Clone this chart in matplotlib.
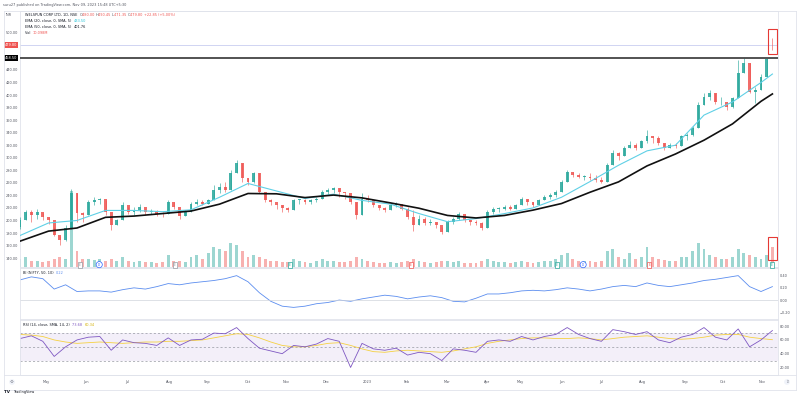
import matplotlib
matplotlib.use("Agg")
import matplotlib.pyplot as plt
import numpy as np
from matplotlib.patches import Rectangle

# ---------------- data (one candle per ~3 sessions) ----------------
close = [200, 214, 209, 214, 206, 201, 177, 169, 188, 244,
         212, 209, 230, 233, 234, 214, 193, 201, 225, 214,
         217, 222, 214, 215, 211, 210, 230, 222, 207, 214,
         227, 230, 227, 233, 249, 254, 249, 275, 291, 267,
         262, 275, 246, 233, 230, 225, 220, 217, 233, 233,
         230, 232, 235, 246, 249, 251, 246, 243, 230, 209,
         235, 233, 225, 220, 217, 225, 227, 219, 206, 193,
         203, 196, 198, 193, 182, 198, 203, 211, 201, 198,
         196, 188, 214, 219, 219, 222, 219, 225, 235, 230,
         225, 233, 238, 241, 246, 262, 278, 273, 270, 270,
         267, 265, 262, 288, 307, 302, 315, 320, 315, 326,
         334, 331, 323, 315, 320, 318, 334, 336, 347, 384,
         397, 403, 389, 389, 381, 395, 435, 451, 405, 408,
         429, 457, 479.80]
high = [205, 217, 216, 219, 212, 206, 190, 176, 192, 250,
        244, 214, 232, 238, 236, 233, 206, 203, 229, 222,
        222, 227, 219, 219, 216, 214, 232, 230, 217, 217,
        230, 235, 232, 235, 256, 259, 262, 280, 297, 291,
        268, 278, 275, 246, 235, 227, 224, 222, 235, 235,
        235, 235, 238, 248, 251, 254, 251, 246, 241, 230,
        243, 240, 233, 224, 222, 227, 229, 224, 222, 216,
        209, 206, 203, 198, 190, 200, 206, 214, 211, 201,
        200, 198, 216, 222, 222, 225, 225, 227, 238, 235,
        230, 235, 241, 243, 249, 264, 281, 278, 275, 272,
        275, 272, 270, 291, 312, 309, 318, 326, 323, 328,
        344, 334, 334, 323, 323, 323, 336, 339, 350, 389,
        403, 408, 403, 397, 389, 397, 456, 459, 451, 413,
        434, 459, 490.45]
low = [186, 200, 198, 203, 201, 195, 175, 161, 168, 186,
       198, 197, 208, 225, 226, 208, 185, 192, 200, 211,
       209, 214, 208, 211, 207, 206, 210, 218, 203, 207,
       214, 225, 224, 227, 232, 243, 246, 249, 275, 262,
       256, 259, 243, 230, 225, 219, 214, 214, 217, 227,
       227, 227, 230, 235, 240, 243, 238, 235, 227, 202,
       209, 230, 222, 216, 214, 216, 222, 217, 203, 184,
       193, 192, 193, 188, 178, 182, 195, 200, 198, 192,
       192, 185, 188, 211, 214, 216, 216, 219, 225, 225,
       222, 225, 232, 235, 238, 246, 262, 270, 267, 264,
       265, 262, 259, 262, 288, 296, 302, 315, 313, 315,
       323, 323, 320, 312, 315, 315, 318, 328, 334, 347,
       384, 392, 386, 384, 376, 379, 395, 435, 403, 387,
       408, 429, 471.35]
first_open = 190.0
last_open = 480.00
volume_m = [4, 5, 3, 3, 2.5, 3, 4, 5, 4, 38,
            8, 4, 4, 3.5, 4, 3, 4, 3, 5, 3,
            2.5, 3, 2.5, 2.5, 2, 2.5, 6, 3, 3, 2.5,
            5, 6, 4, 7, 10, 9, 8, 12, 11, 8,
            5, 6, 5, 4, 3, 3, 2.5, 2.5, 4, 3,
            2.5, 2, 3, 4, 3, 3, 2.5, 2.5, 3, 5,
            4, 3, 2.5, 2, 2, 2.5, 2, 2.5, 3, 4,
            3, 2.5, 2, 2.5, 3, 3, 2.5, 3, 2, 2,
            2, 3, 4, 3, 2.5, 2.5, 2, 2.5, 3, 2.5,
            2, 2.5, 3, 3, 4, 6, 7, 4, 3, 3,
            3, 2.5, 3, 8, 9, 5, 4, 7, 4, 5,
            10, 5, 4, 3.5, 3, 3, 5, 5, 8, 12,
            9, 6, 5, 4, 4, 5, 9, 7, 6, 5,
            4, 6, 10.098]

# EMA readings every 5 candles (+ last candle)
ema20 = [176, 196, 200, 216, 216, 214, 217, 237, 259, 247,
         235, 242, 232, 226, 211, 198, 203, 211, 220, 237,
         262, 288, 311, 320, 368, 389, 420, 433.50]
ema50 = [167, 183, 188, 205, 207, 211, 215, 226, 243, 242.5,
         236.5, 240.5, 236, 228, 219.5, 208, 204, 208, 216.5, 227,
         245, 261.5, 287, 306, 328, 354, 390, 401.76]

# lower panes, readings every 2 candles
bi = [0.33, 0.38, 0.35, 0.18, 0.25, 0.14, 0.15, 0.15, 0.13, 0.17,
      0.20, 0.18, 0.22, 0.27, 0.25, 0.28, 0.30, 0.32, 0.35, 0.40,
      0.30, 0.12, -0.02, -0.10, -0.12, -0.10, -0.06, -0.04, 0.00, -0.02,
      0.02, 0.05, 0.08, 0.06, 0.02, 0.05, 0.07, 0.04, -0.02, -0.03,
      0.03, 0.10, 0.10, 0.12, 0.15, 0.16, 0.15, 0.17, 0.20, 0.18,
      0.15, 0.18, 0.22, 0.24, 0.22, 0.28, 0.24, 0.22, 0.25, 0.28,
      0.32, 0.34, 0.37, 0.40, 0.22, 0.14, 0.22]
rsi = [62, 66, 58, 36, 50, 60, 64, 65, 45, 60,
       56, 55, 52, 63, 52, 60, 61, 70, 69, 78,
       62, 48, 44, 40, 52, 50, 54, 62, 58, 20,
       55, 47, 45, 48, 38, 42, 40, 30, 47, 45,
       42, 58, 60, 58, 65, 60, 65, 68, 78, 68,
       62, 58, 75, 72, 68, 72, 60, 56, 64, 68,
       78, 64, 60, 76, 50, 60, 73.68]
rsi_ma = [68, 67, 65, 60, 57, 55, 56, 57, 56, 55,
          56, 57, 57, 58, 58, 59, 60, 63, 66, 69,
          68, 63, 57, 52, 50, 50, 52, 55, 56, 52,
          47, 43, 42, 44, 45, 44, 43, 42, 44, 47,
          50, 55, 58, 60, 62, 63, 63, 62, 62, 63,
          62, 60, 62, 64, 65, 66, 64, 62, 61, 62,
          64, 67, 68, 68, 64, 62, 60.34]

month_labels = ["May", "Jun", "Jul", "Aug", "Sep", "Oct", "Nov", "Dec", "2023",
                "Feb", "Mar", "Apr", "May", "Jun", "Jul", "Aug", "Sep", "Oct", "Nov"]
month_pos = [4.68, 11.58, 18.89, 26.14, 32.75, 40.0, 46.61, 53.68, 61.0,
             67.84, 74.91, 81.88, 87.84, 95.09, 102.05, 109.12, 116.67, 123.33, 130.12]

event_pos = [10.5, 13.9, 27.2, 47.4, 68.6, 94.2, 98.8, 110.4, 131.9]
event_kind = ["E", "D", "E", "E", "E", "E", "D", "E", "E"]
event_color = ["#9598a1", "#2962ff", "#9598a1", "#26a69a", "#ef5350",
               "#26a69a", "#2962ff", "#ef5350", "#26a69a"]

resistance = 458.50

# ---------------- figure ----------------
W, H = 800, 397
fig = plt.figure(figsize=(W / 100, H / 100), dpi=100)
fig.patch.set_facecolor("white")
plt.rcParams["font.family"] = ["DejaVu Sans"]

UP, DN = "#26a69a", "#ef5350"
TXT = "#50535e"
FS = 2.5
L, R = 20, 778


def ax_at(top, bottom):
    return fig.add_axes([L / W, 1 - bottom / H, (R - L) / W, (bottom - top) / H])


ax = ax_at(11, 267)
axb = ax_at(268, 319)
axr = ax_at(320, 375)

n = len(close)
idx = np.arange(n)
c = np.array(close, float)
o = np.concatenate([[first_open], c[:-1]])
o[-1] = last_open
hi = np.array(high, float)
lo = np.array(low, float)
up = c >= o
cols = np.where(up, UP, DN)

xlim = (0, (R - L) / 5.7)
for a in (ax, axb, axr):
    a.set_xlim(*xlim)
    a.set_facecolor("white")
    for s in a.spines.values():
        s.set_color("#e0e3eb")
        s.set_linewidth(0.6)
    a.tick_params(length=0, labelsize=FS, colors=TXT, pad=1.5)
    a.set_xticks([])

# volume (twin axis)
axv = ax.twinx()
axv.set_ylim(0, 128)
axv.bar(idx, volume_m, width=0.5, color=[UP if u else DN for u in up], alpha=0.45, linewidth=0)
axv.axis("off")
ax.set_zorder(axv.get_zorder() + 1)
ax.patch.set_visible(False)

# candles
ax.set_ylim(125.8, 534)
ax.vlines(idx, lo, hi, colors=cols, linewidth=0.5, zorder=3, alpha=0.85)
ax.bar(idx, np.maximum(np.abs(c - o), 0.6), bottom=np.minimum(o, c), width=0.5,
       color=cols, linewidth=0, zorder=4, alpha=0.85)

# EMAs
ema_pos = list(range(0, n, 5)) + [n - 1]
ax.plot(ema_pos, ema20, color="#5fd0e6", lw=0.8, zorder=5)
ax.plot(ema_pos, ema50, color="#111111", lw=1.2, zorder=5)

# horizontal lines
ax.axhline(resistance, color="#444444", lw=1.3, zorder=6)
ax.axhline(close[-1], color="#c9cdf0", lw=0.6, zorder=2)

# annotation rectangles on last candle
ax.add_patch(Rectangle((n - 1 - 0.75, 465), 1.5, 40, fill=False, ec="#e53935", lw=0.8, zorder=7))
axv.add_patch(Rectangle((n - 1 - 0.75, 3.5), 1.5, 11.5, fill=False, ec="#e53935", lw=0.8, zorder=7))

# event markers
for p, k, ec in zip(event_pos, event_kind, event_color):
    ax.text(p, 129.5, k, fontsize=2.2, color=ec, ha="center", va="center", zorder=8,
            bbox=dict(boxstyle="circle,pad=0.35" if k == "D" else "square,pad=0.35",
                      fc="white", ec=ec, lw=0.5))

# left price axis
yt = list(range(140, 441, 20)) + [500]
ax.set_yticks(yt)
ax.set_yticklabels([f"{v:.2f}" for v in yt])
ax.yaxis.tick_left()
ax.text(-0.004, close[-1], f"{close[-1]:.2f}", transform=ax.get_yaxis_transform(), ha="right",
        va="center", fontsize=FS, color="white",
        bbox=dict(boxstyle="square,pad=0.25", fc=DN, ec="none"))
ax.text(-0.004, resistance, f"{resistance:.2f}", transform=ax.get_yaxis_transform(), ha="right",
        va="center", fontsize=FS, color="white",
        bbox=dict(boxstyle="square,pad=0.25", fc="#000000", ec="none"))

# BI pane
bpos = list(range(0, n, 2))
axb.set_ylim(-0.31, 0.525)
axb.plot(bpos, bi, color="#5b8def", lw=0.6)
axb.axhline(0, color="#d1d4dc", lw=0.5)
axb.yaxis.tick_right()
axb.set_yticks([0.4, 0.2, 0.0, -0.2])
axb.set_yticklabels(["0.40", "0.20", "0.00", "\u22120.20"])

# RSI pane
axr.set_ylim(9, 89)
axr.axhspan(30, 70, color="#7e57c2", alpha=0.09, lw=0)
for lv in (70, 50, 30):
    axr.axhline(lv, color="#9598a1", lw=0.5, ls=(0, (3, 3)))
axr.plot(bpos, rsi_ma, color="#f5d142", lw=0.6)
axr.plot(bpos, rsi, color="#7e57c2", lw=0.6)
axr.yaxis.tick_right()
axr.set_yticks([80, 60, 40, 20])
axr.set_yticklabels(["80.00", "60.00", "40.00", "20.00"])

# x axis labels (drawn under RSI pane)
for p, lab in zip(month_pos, month_labels):
    axr.text(p, -0.12, lab, transform=axr.get_xaxis_transform(), ha="center", va="center",
             fontsize=FS, color=TXT)

# frame lines
def hline(y, x0=0, x1=W, c="#e0e3eb", lw=0.6):
    fig.add_artist(plt.Line2D([x0 / W, x1 / W], [1 - y / H, 1 - y / H], color=c, lw=lw))


def vline(x, y0, y1, c="#e0e3eb", lw=0.6):
    fig.add_artist(plt.Line2D([x / W, x / W], [1 - y0 / H, 1 - y1 / H], color=c, lw=lw))


hline(11, 4, 796)
hline(390, 4, 796)
hline(375, 4, 796)
vline(4, 11, 390)
vline(796, 11, 390)

# small corner icons
fig.text(12 / W, 1 - 382 / H, "\u2699", fontsize=3.2, color="#787b86", ha="center", va="center",
         bbox=dict(boxstyle="circle,pad=0.2", fc="#f0f3fa", ec="none"))
fig.text(787 / W, 1 - 382 / H, "\u21e7", fontsize=3.2, color="#787b86", ha="center", va="center",
         bbox=dict(boxstyle="circle,pad=0.2", fc="#f0f3fa", ec="none"))

# header texts
fig.text(3 / W, 1 - 5 / H, "suru27 published on TradingView.com, Nov 09, 2023 15:48 UTC+5:30",
         fontsize=FS, color=TXT, va="center")
fig.text(6 / W, 1 - 15 / H, "INR", fontsize=FS, color=TXT, va="center")

ly = [15, 21, 27, 33]
x0 = 25 / W
t = fig.text(x0, 1 - ly[0] / H, "WELSPUN CORP LTD, 1D, NSE  ", fontsize=FS, color="#131722", va="center")
parts = [("O", TXT), ("480.00 ", DN), ("H", TXT), ("490.45 ", DN), ("L", TXT), ("471.35 ", DN),
         ("C", TXT), ("479.80 ", DN), ("+22.85 (+5.00%)", DN)]
fig.canvas.draw()
r = fig.canvas.get_renderer()
xx = t.get_window_extent(r).x1 / fig.bbox.width
for s, col in parts:
    tt = fig.text(xx, 1 - ly[0] / H, s, fontsize=FS, color=col, va="center")
    xx = tt.get_window_extent(r).x1 / fig.bbox.width


def legend_line(y, label, value, vcol):
    t1 = fig.text(x0, 1 - y / H, label, fontsize=FS, color="#131722", va="center")
    fig.canvas.draw()
    xe = t1.get_window_extent(fig.canvas.get_renderer()).x1 / fig.bbox.width
    fig.text(xe, 1 - y / H, value, fontsize=FS, color=vcol, va="center")


legend_line(ly[1], "EMA (20, close, 0, SMA, 5)  ", f"{ema20[-1]:.2f}", "#26c6da")
legend_line(ly[2], "EMA (50, close, 0, SMA, 5)  ", f"{ema50[-1]:.2f}", "#131722")
legend_line(ly[3], "Vol  ", f"{volume_m[-1]:.3f}M", DN)

# pane legends
bt = axb.text(0.004, 0.9, "BI (NIFTY, 50, 10)  ", transform=axb.transAxes, fontsize=FS, color="#131722", va="center")
fig.canvas.draw()
bx = axb.transAxes.inverted().transform((bt.get_window_extent(fig.canvas.get_renderer()).x1, 0))[0]
axb.text(bx, 0.9, f"{bi[-1]:.2f}", transform=axb.transAxes, fontsize=FS, color="#5b8def", va="center")

rt = axr.text(0.004, 0.9, "RSI (14, close, SMA, 14, 2)  ", transform=axr.transAxes, fontsize=FS, color="#131722", va="center")
fig.canvas.draw()
rx = axr.transAxes.inverted().transform((rt.get_window_extent(fig.canvas.get_renderer()).x1, 0))[0]
rt2 = axr.text(rx, 0.9, f"{rsi[-1]:.2f}  ", transform=axr.transAxes, fontsize=FS, color="#7e57c2", va="center")
fig.canvas.draw()
rx2 = axr.transAxes.inverted().transform((rt2.get_window_extent(fig.canvas.get_renderer()).x1, 0))[0]
axr.text(rx2, 0.9, f"{rsi_ma[-1]:.2f}", transform=axr.transAxes, fontsize=FS, color="#d4b106", va="center")

# bottom logo
fig.text(4 / W, 1 - 392 / H, "TV", fontsize=3.0, color="#131722", va="center", fontweight="bold")
fig.text(13 / W, 1 - 392 / H, "TradingView", fontsize=FS, color="#131722", va="center")

fig.savefig("out.png", dpi=100, facecolor="white")
